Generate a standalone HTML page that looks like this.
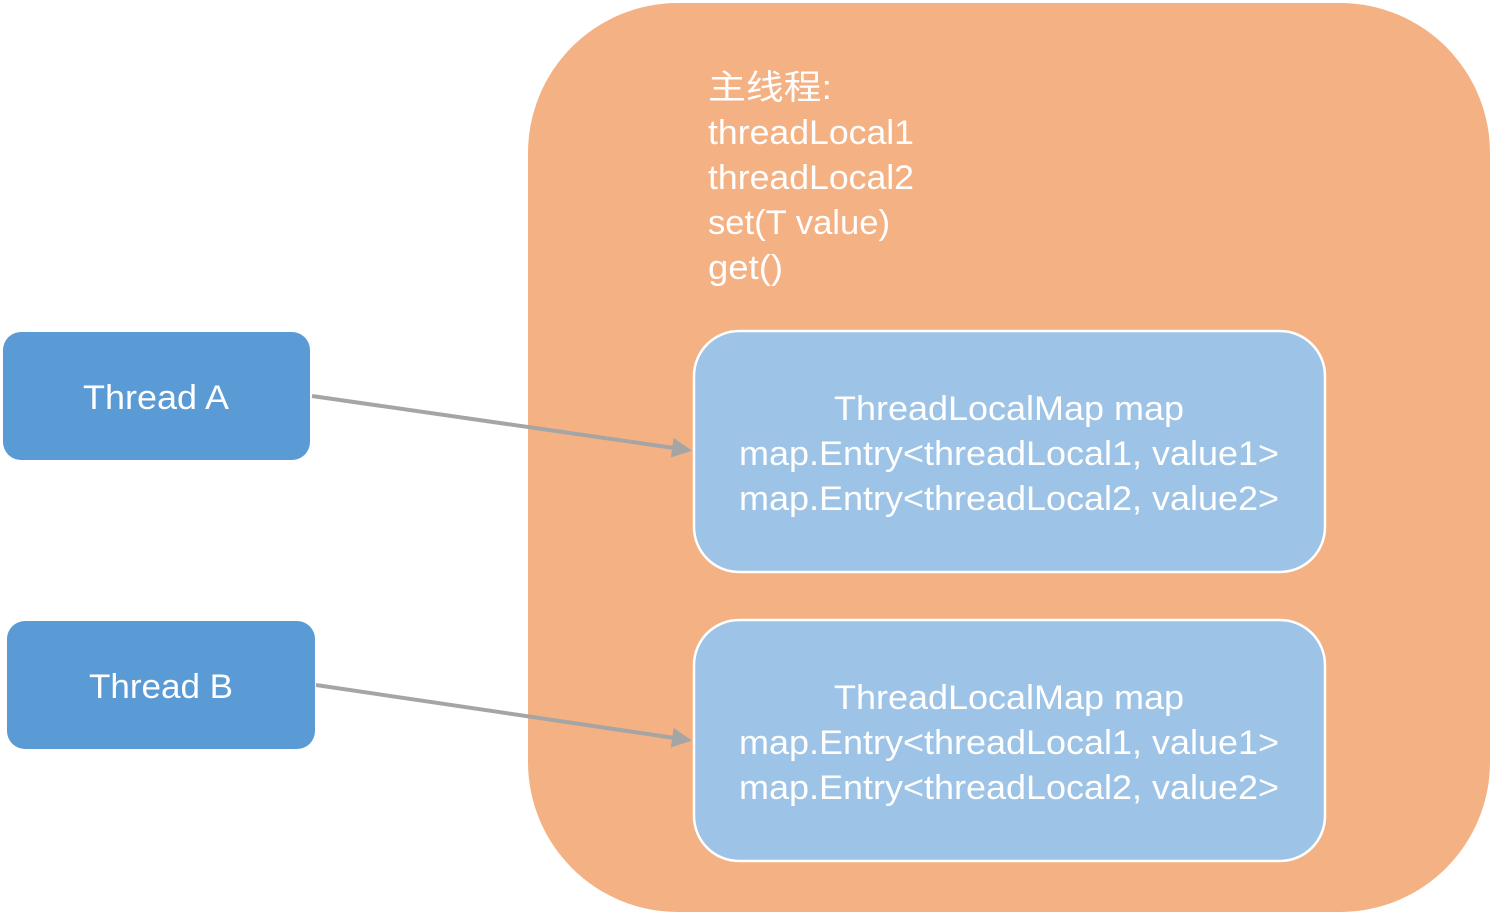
<!DOCTYPE html>
<html><head><meta charset="utf-8"><style>
html,body{margin:0;padding:0;background:#fff;}
svg{display:block;}
text{font-family:"Liberation Sans","Noto Sans CJK SC",sans-serif;fill:#fff;font-size:34px;}
</style></head><body>
<svg width="1494" height="916" viewBox="0 0 1494 916">
<defs><marker id="ah" markerWidth="5" markerHeight="5" refX="4" refY="2.5" orient="auto" markerUnits="strokeWidth"><path d="M0,0 L5,2.5 L0,5 z" fill="#A5A5A5"/></marker></defs>
<rect x="528" y="3" width="962" height="909" rx="150" fill="#F4B183"/>
<text x="708" y="99" textLength="124" lengthAdjust="spacingAndGlyphs">主线程:</text>
<text x="708" y="144" textLength="206" lengthAdjust="spacingAndGlyphs">threadLocal1</text>
<text x="708" y="189" textLength="206" lengthAdjust="spacingAndGlyphs">threadLocal2</text>
<text x="708" y="234" textLength="182" lengthAdjust="spacingAndGlyphs">set(T value)</text>
<text x="708" y="279" textLength="75" lengthAdjust="spacingAndGlyphs">get()</text>
<rect x="694" y="331" width="631" height="241" rx="45" fill="#9DC3E6" stroke="#fff" stroke-width="2.5"/>
<text x="834" y="420" textLength="350" lengthAdjust="spacingAndGlyphs">ThreadLocalMap map</text>
<text x="739" y="465" textLength="540" lengthAdjust="spacingAndGlyphs">map.Entry&lt;threadLocal1, value1&gt;</text>
<text x="739" y="510" textLength="540" lengthAdjust="spacingAndGlyphs">map.Entry&lt;threadLocal2, value2&gt;</text>
<rect x="694" y="620" width="631" height="241" rx="45" fill="#9DC3E6" stroke="#fff" stroke-width="2.5"/>
<text x="834" y="709" textLength="350" lengthAdjust="spacingAndGlyphs">ThreadLocalMap map</text>
<text x="739" y="754" textLength="540" lengthAdjust="spacingAndGlyphs">map.Entry&lt;threadLocal1, value1&gt;</text>
<text x="739" y="799" textLength="540" lengthAdjust="spacingAndGlyphs">map.Entry&lt;threadLocal2, value2&gt;</text>
<rect x="3" y="332" width="307" height="128" rx="18" fill="#5B9BD5"/>
<text x="83" y="409" textLength="146" lengthAdjust="spacingAndGlyphs">Thread A</text>
<rect x="7" y="621" width="308" height="128" rx="18" fill="#5B9BD5"/>
<text x="89" y="698" textLength="144" lengthAdjust="spacingAndGlyphs">Thread B</text>
<line x1="312" y1="396" x2="688" y2="450" stroke="#A5A5A5" stroke-width="4" marker-end="url(#ah)"/>
<line x1="316" y1="685" x2="688" y2="740" stroke="#A5A5A5" stroke-width="4" marker-end="url(#ah)"/>
</svg>
</body></html>
